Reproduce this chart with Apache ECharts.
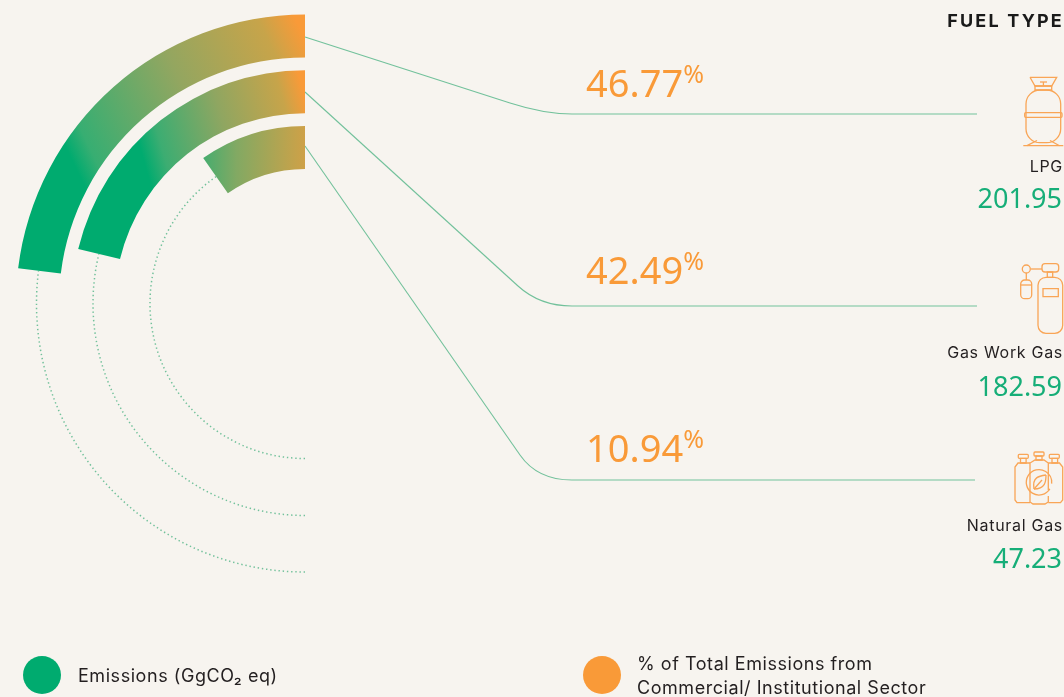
<!DOCTYPE html>
<html><head><meta charset="utf-8">
<style>html,body{margin:0;padding:0;background:#f7f4ef}#c{width:1064px;height:697px}</style>
<script src="https://cdn.jsdelivr.net/npm/echarts@6/dist/echarts.min.js"></script>
</head><body><div id="c"></div>
<script>
// Data
const categories = ['LPG', 'Gas Work Gas', 'Natural Gas'];
const emissions = ['201.95', '182.59', '47.23'];
const shares = ['46.77', '42.49', '10.94'];
// The printed arcs are not proportional to the printed numbers, so their sweep is read separately (degrees)
const arcSweep = [83, 76.5, 35];
const legendNames = ['Emissions (GgCO\u2082 eq)', '% of Total Emissions from\nCommercial/ Institutional Sector'];

// Styles / layout
const GREEN = '#00ab6f', ORANGE = '#f99a38', LINE = '#72c19b', TXT = '#231f20', NUM = '#16ae78', ICON = '#f9a556';
const LBL = '"Inter","Roboto",sans-serif', NUMF = '"Noto Sans",sans-serif';
const cx = 305, cy = 303.5, ringMid = [268.5, 212, 155];
const grads = [
  [72, 160, 309, 47, [[0, GREEN], [0.08, '#37ae72'], [0.5, '#93a660'], [0.87, '#c7a44a'], [1, ORANGE]]],
  [140, 147, 306, 100, [[0, GREEN], [0.12, '#3cad72'], [0.5, '#8fa661'], [0.87, '#c7a44a'], [1, ORANGE]]],
  [190, 0, 345, 0, [[0, '#2fae73'], [0.3, '#82a963'], [0.65, '#bfa34d'], [1, ORANGE]]]
];
const lineY = [114, 306, 480], lineEnd = [977, 977, 975];
const lineBend = [[510, 103], [518, 286], [520, 455]];
const ringAnchorY = [37, 92, 146];
const pctY = [86.5, 273.5, 451.5], labY = [167, 353, 526], numY = [200, 388, 560];

// Canvas tracking for the label face (the reference's labels are widely spaced)
const nativeFill = CanvasRenderingContext2D.prototype.fillText;
CanvasRenderingContext2D.prototype.fillText = function (t, x, y, w) {
  const f = this.font;
  this.letterSpacing = !f.includes('Inter') ? '0px' : f.includes('bold') || f.includes('700') ? '2.2px' : f.includes('16px') ? '0.7px' : '0.55px';
  return w === undefined ? nativeFill.call(this, t, x, y) : nativeFill.call(this, t, x, y, w);
};

const g = [];
const stroke = {stroke: ICON, lineWidth: 1.3, fill: 'none'};
function line(x1, y1, x2, y2, st) { g.push({type: 'line', shape: {x1, y1, x2, y2}, style: st || stroke, silent: true}); }
function rect(x, y, width, height, r, st) { g.push({type: 'rect', shape: {x, y, width, height, r}, style: st || stroke, silent: true}); }
function poly(points, st) { g.push({type: 'polyline', shape: {points}, style: st || stroke, silent: true}); }
function text(t, x, y, size, color, font, align, weight, extra) {
  g.push({type: 'text', x, y, silent: true, style: Object.assign({text: t, fontSize: size, fill: color, fontFamily: font,
    align: align, verticalAlign: 'middle', fontWeight: weight || 'normal'}, extra || {})});
}

// Dotted tracks from each arc's end round to the bottom
arcSweep.forEach((deg, i) => {
  g.push({type: 'arc', silent: true, z: -1, shape: {cx, cy, r: ringMid[i], startAngle: Math.PI / 2,
    endAngle: 1.5 * Math.PI - deg * Math.PI / 180, clockwise: true},
    style: {stroke: LINE, lineWidth: 1.5, fill: 'none', lineDash: [1.4, 2.8]}});
});
// Leader lines
const lst = {stroke: LINE, lineWidth: 1.1, fill: 'none'};
lineY.forEach((y, i) => {
  const b = lineBend[i];
  line(305, ringAnchorY[i], b[0], b[1], lst);
  const slope = (b[1] - ringAnchorY[i]) / (b[0] - 305);
  g.push({type: 'bezierCurve', silent: true, shape: {x1: b[0], y1: b[1], cpx1: b[0] + (y - b[1]) / slope, cpy1: y, x2: 572, y2: y}, style: lst});
  line(572, y, lineEnd[i], y, lst);
});
// Text
text('FUEL TYPE', 1064, 21.5, 18, '#1a1a1a', LBL, 'right', 'bold');
categories.forEach((c, i) => {
  g.push({type: 'text', x: 586, y: pctY[i], silent: true, style: {
    rich: {v: {fontSize: 38, fill: ORANGE, fontFamily: NUMF, lineHeight: 46},
           p: {fontSize: 25, fill: ORANGE, fontFamily: NUMF, verticalAlign: 'top', lineHeight: 30}},
    text: '{v|' + shares[i] + '}{p|%}', align: 'left', verticalAlign: 'middle'}});
  text(c, 1063, labY[i], 16, TXT, LBL, 'right');
  text(emissions[i], 1062, numY[i], 27, NUM, NUMF, 'right');
});
// Legend
g.push({type: 'circle', silent: true, shape: {cx: 42, cy: 675, r: 19}, style: {fill: GREEN}});
g.push({type: 'circle', silent: true, shape: {cx: 602, cy: 675, r: 19}, style: {fill: ORANGE}});
text(legendNames[0], 78, 676.5, 18, TXT, LBL, 'left');
legendNames[1].split('\n').forEach((t, i) => text(t, 637, 664.5 + i * 24, 18, TXT, LBL, 'left'));

// Icon: LPG cylinder
poly([[1030, 77.3], [1056.7, 77.3], [1051.7, 86], [1035, 86], [1030, 77.3]]);
rect(1035, 86, 16.7, 4, 0);
line(1040, 82, 1047, 82); line(1043.4, 82, 1043.4, 86);
rect(1026, 90, 34.7, 52.7, 14);
rect(1024.7, 112.7, 37.3, 4.6, 1);
line(1023.3, 145.7, 1063.3, 145.7);
line(1027, 145.7, 1037, 140.5); line(1050, 140.5, 1059.5, 145.7);
// Icon: gas work cylinders
rect(1038, 277.3, 24.7, 56, 8);
rect(1043, 288.7, 15.3, 8, 0);
rect(1047.3, 272, 5.4, 5.3, 0);
rect(1042, 263.7, 16.7, 8.3, 3);
line(1030.7, 269, 1042, 269);
g.push({type: 'circle', silent: true, shape: {cx: 1026.3, cy: 269, r: 4}, style: stroke});
line(1026.3, 273, 1026.3, 280);
rect(1020.7, 280, 11, 18.7, 4);
line(1020.7, 285, 1031.7, 285);
// Icon: natural gas cylinders
poly([[1030, 463], [1018, 463], [1015, 467], [1015, 500], [1017, 502.7], [1030, 502.7]]);
poly([[1048.3, 463], [1059.5, 463], [1062.7, 467], [1062.7, 500], [1060.5, 502.7], [1048.3, 502.7]]);
poly([[1030, 497], [1030, 463], [1035, 460], [1044, 460], [1048.3, 463], [1048.3, 490]]);
poly([[1030, 497], [1030, 502], [1033, 504], [1045, 504], [1048.3, 502], [1048.3, 496]]);
rect(1034, 452, 10, 4, 1); rect(1036, 456, 6, 4, 0);
rect(1018.3, 454.3, 10, 4, 1); rect(1020.5, 458.3, 5.6, 4.7, 0);
rect(1049.3, 454.3, 10, 4, 1); rect(1052, 458.3, 5.6, 4.7, 0);
g.push({type: 'arc', silent: true, shape: {cx: 1039, cy: 482.3, r: 12.7, startAngle: 0.55, endAngle: 0.1, clockwise: true}, style: stroke});
g.push({type: 'bezierCurve', silent: true, shape: {x1: 1034, y1: 489, cpx1: 1032, cpy1: 477, cpx2: 1039, cpy2: 476, x2: 1046, y2: 475}, style: stroke});
g.push({type: 'bezierCurve', silent: true, shape: {x1: 1034, y1: 489, cpx1: 1045, cpy1: 489, cpx2: 1046, cpy2: 482, x2: 1046, y2: 475}, style: stroke});
line(1034, 489, 1042, 480);

const chart = echarts.init(document.getElementById('c'), null, {renderer: 'canvas'});
chart.setOption({
  backgroundColor: '#f7f4ef',
  animation: false,
  polar: {center: [cx, cy], radius: [128.1, 295.4]},
  angleAxis: {type: 'value', min: 0, max: 360, startAngle: 90, clockwise: false, show: false},
  radiusAxis: {type: 'category', data: categories, inverse: true, show: false},
  series: [{
    type: 'bar', coordinateSystem: 'polar', barWidth: 43, silent: true,
    data: arcSweep.map((v, i) => ({
      value: v,
      itemStyle: {color: new echarts.graphic.LinearGradient(grads[i][0], grads[i][1], grads[i][2], grads[i][3],
        grads[i][4].map(s => ({offset: s[0], color: s[1]})), true)}
    }))
  }],
  graphic: {elements: g}
});
</script></body></html>
